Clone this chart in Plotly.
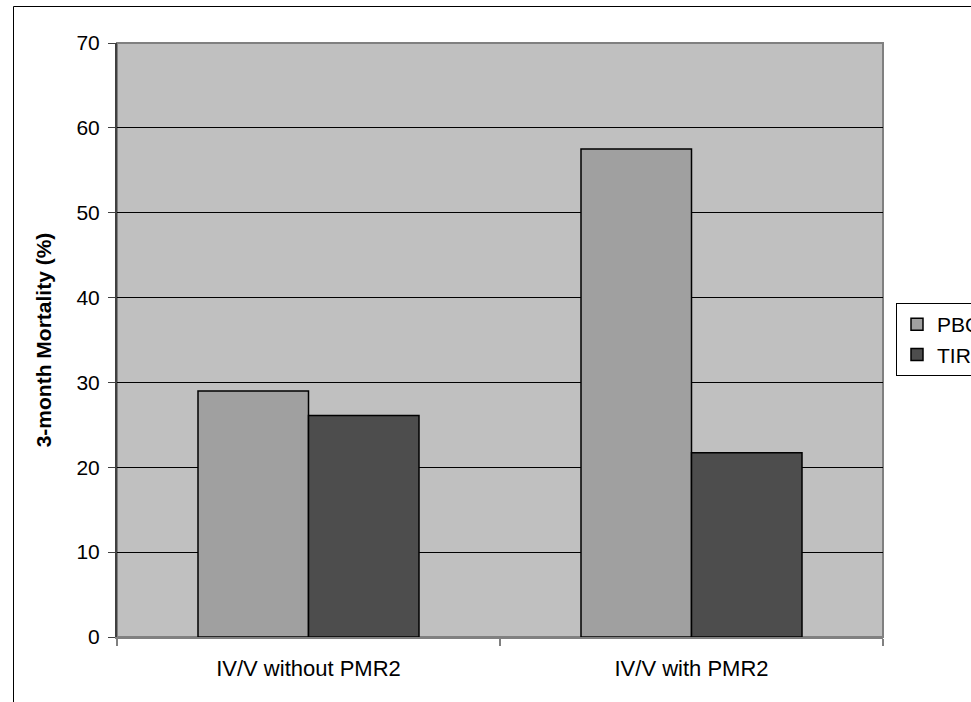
import plotly.graph_objects as go

categories = ["IV/V without PMR2", "IV/V with PMR2"]
pbo_values = [29.0, 57.5]
tir_values = [26.1, 21.7]
series_names = ["PBO", "TIR"]
y_ticks = [0, 10, 20, 30, 40, 50, 60, 70]

W, H = 971, 702
L, R, T, B = 117, 883, 43, 637

def px_x(p):
    return (p - L) / (R - L)

def px_y(p):
    return (B - p) / (B - T)

FONT = "Liberation Sans, Arial, sans-serif"

fig = go.Figure()
fig.add_trace(go.Bar(x=categories, y=pbo_values, name=series_names[0], legendgroup="a",
                     marker=dict(color="#A0A0A0", line=dict(color="#000000", width=1.5))))
fig.add_trace(go.Bar(x=categories, y=tir_values, name=series_names[1], legendgroup="b",
                     marker=dict(color="#4D4D4D", line=dict(color="#000000", width=1.5))))

fig.update_layout(
    width=W, height=H,
    margin=dict(l=L, r=W - R, t=T, b=H - B, autoexpand=False),
    paper_bgcolor="#FFFFFF",
    plot_bgcolor="#C0C0C0",
    font=dict(family=FONT, size=21, color="#000000"),
    barmode="group", bargap=0.423, bargroupgap=0,
    legend=dict(x=px_x(896), y=px_y(303), xanchor="left", yanchor="top",
                bgcolor="#FFFFFF", bordercolor="#000000", borderwidth=1,
                font=dict(family=FONT, size=21, color="#000000"),
                tracegroupgap=8, traceorder="normal"),
    showlegend=True,
    xaxis=dict(showline=True, linecolor="#808080", linewidth=2,
               ticks="outside", tickson="boundaries", ticklen=7, tickcolor="#808080", tickwidth=2,
               showgrid=False, ticklabelstandoff=11,
               tickfont=dict(family=FONT, size=22, color="#000000")),
    yaxis=dict(range=[0, 70], tickvals=y_ticks, ticktext=[str(v) for v in y_ticks],
               showline=True, linecolor="#404040", linewidth=2,
               ticks="outside", ticklen=7, tickcolor="#404040", tickwidth=1,
               showgrid=True, gridcolor="#000000", gridwidth=1, zeroline=False,
               ticklabelstandoff=4,
               tickfont=dict(family=FONT, size=21, color="#000000"),
               title=dict(text="<b>3-month Mortality (%)</b>", standoff=19,
                          font=dict(family=FONT, size=21, color="#000000"))),
    shapes=[
        dict(type="rect", xref="paper", yref="paper", x0=0, x1=1, y0=0, y1=1,
             line=dict(color="#808080", width=2), fillcolor="rgba(0,0,0,0)", layer="below"),
        dict(type="rect", xref="paper", yref="paper",
             x0=px_x(13.5), x1=px_x(1200), y0=px_y(900), y1=px_y(6.5),
             line=dict(color="#000000", width=1), fillcolor="rgba(0,0,0,0)"),
    ],
)

fig.write_html(
    "out.html",
    config={"displayModeBar": False},
    post_script="document.body.style.margin='0';document.body.style.overflow='hidden';",
)
